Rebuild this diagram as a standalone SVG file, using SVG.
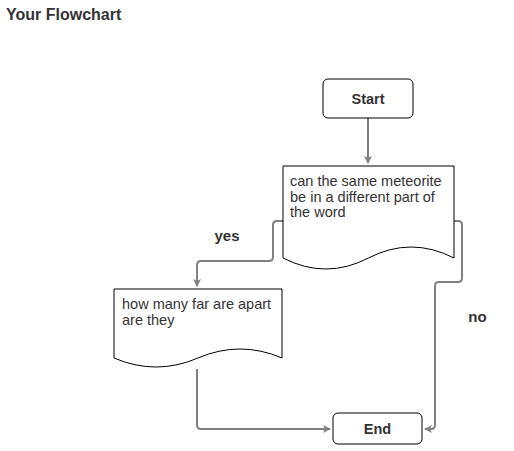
<svg xmlns="http://www.w3.org/2000/svg" width="514" height="451" viewBox="0 0 514 451">
<style>
.shape{fill:#fff;stroke:#000;stroke-width:1}
.conn{fill:none;stroke:#808080;stroke-width:2;stroke-linejoin:round}
.t{font-family:"Liberation Sans",Arial,sans-serif;font-size:14.5px;fill:#333}
.b{font-weight:bold}
.lbl{font-size:15px}
</style>
<defs>
<marker id="arr" markerWidth="10" markerHeight="10" refX="7" refY="4" orient="auto" markerUnits="userSpaceOnUse">
<path d="M0,0 L8,4 L0,8 L2,4 Z" fill="#808080"/>
</marker>
</defs>
<rect width="514" height="451" fill="#fff"/>
<text class="t b" x="6" y="20" style="font-size:16px">Your Flowchart</text>
<g id="connectors">
<path class="conn" d="M368,118 V163" marker-end="url(#arr)"/>
<path class="conn" d="M283,221 H277 Q273,221 273,225 V257 Q273,261 269,261 H201 Q197,261 197,265 V286" marker-end="url(#arr)"/>
<path class="conn" d="M454,221 H458 Q462,221 462,225 V278 Q462,282 458,282 H439 Q435,282 435,286 V425 Q435,429 431,429 H425" marker-end="url(#arr)"/>
<path class="conn" d="M197,369 V425 Q197,429 201,429 H330" marker-end="url(#arr)"/>
</g>
<g id="start">
<rect class="shape" x="323" y="79" width="90" height="39" rx="5"/>
<text class="t b" x="368" y="104" text-anchor="middle">Start</text>
</g>
<g id="decision">
<path class="shape" d="M283,166 H454 V258 Q411,236 368.5,258 Q326,280 283,258 Z"/>
<text class="t" x="290" y="186">can the same meteorite</text>
<text class="t" x="290" y="201.5">be in a different part of</text>
<text class="t" x="290" y="217">the word</text>
</g>
<g id="process">
<path class="shape" d="M114,289 H282 V358 Q240,340 198,358 Q156,376 114,358 Z"/>
<text class="t" x="122" y="309">how many far are apart</text>
<text class="t" x="122" y="324.5">are they</text>
</g>
<g id="end">
<rect class="shape" x="333" y="413" width="89" height="31" rx="5"/>
<text class="t b" x="377.5" y="434" text-anchor="middle">End</text>
</g>
<text class="t b lbl" x="227" y="241" text-anchor="middle">yes</text>
<text class="t b lbl" x="477.5" y="322" text-anchor="middle">no</text>
</svg>
